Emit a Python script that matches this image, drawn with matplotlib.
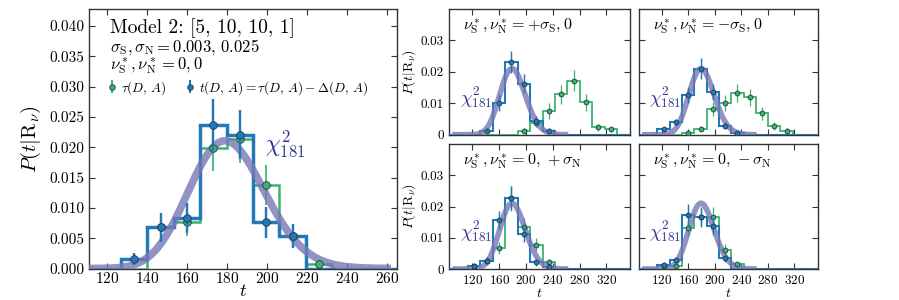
import math
import numpy as np
import matplotlib
matplotlib.use('Agg')
import matplotlib.pyplot as plt
from matplotlib.ticker import FuncFormatter, MultipleLocator, FixedLocator

plt.rcParams['font.family'] = 'serif'
plt.rcParams['font.serif'] = ['cmr10', 'DejaVu Serif']
plt.rcParams['mathtext.fontset'] = 'cm'
plt.rcParams['axes.unicode_minus'] = False
plt.rcParams['axes.formatter.use_mathtext'] = True

# colours
c_t = '#2378b8'
c_tau = '#3db36b'
c_chi = '#7777b5'
c_lab = '#30308c'

# chi^2 degrees of freedom
dof = 181

# left panel: Model 2, nu*_S, nu*_N = 0, 0
left_edges = [127.0, 140.2, 153.4, 166.6, 179.8, 193.0, 206.2, 219.4, 232.6]
left_tau = [0, 0.0068, 0.0077, 0.0199, 0.0214, 0.0137, 0.0053, 0.0008]
left_tau_err = [0, 0.0024, 0.0023, 0.0039, 0.0040, 0.0033, 0.0020, 0.0003]
left_t = [0.0015, 0.0068, 0.0083, 0.0237, 0.0221, 0.0076, 0.0053, 0]
left_t_err = [0.0010, 0.0024, 0.0025, 0.0043, 0.0041, 0.0025, 0.0020, 0]

# right panels: shared bins
right_edges = [113.3, 131.9, 150.4, 169.0, 187.5, 206.1, 224.6, 243.2,
               261.7, 280.3, 298.8, 317.4, 335.9]

# +sigma_S, 0
p1_tau = [0, 0, 0, 0, 0.0013, 0.0036, 0.0076, 0.0128, 0.0172, 0.0103, 0.0023, 0.0018]
p1_tau_err = [0, 0, 0, 0, 0.0007, 0.0010, 0.0025, 0.0030, 0.0033, 0.0027, 0.0010, 0.0008]
p1_t = [0, 0.0012, 0.0102, 0.0231, 0.0162, 0.0045, 0.0012, 0, 0, 0, 0, 0]
p1_t_err = [0, 0.0008, 0.0025, 0.0036, 0.0030, 0.0015, 0.0008, 0, 0, 0, 0, 0]

# -sigma_S, 0
p2_tau = [0, 0, 0.0006, 0.0019, 0.0082, 0.0102, 0.0132, 0.0119, 0.0068, 0.0028, 0.0012, 0]
p2_tau_err = [0, 0, 0.0005, 0.0008, 0.0022, 0.0025, 0.0028, 0.0028, 0.0020, 0.0012, 0.0008, 0]
p2_t = [0.0018, 0.0039, 0.0127, 0.0210, 0.0137, 0.0029, 0.0006, 0, 0, 0, 0, 0]
p2_t_err = [0.0008, 0.0010, 0.0025, 0.0033, 0.0025, 0.0012, 0.0005, 0, 0, 0, 0, 0]

# 0, +sigma_N
p3_tau = [0.0011, 0.0027, 0.0067, 0.0227, 0.0134, 0.0078, 0.0022, 0, 0, 0, 0, 0]
p3_tau_err = [0.0006, 0.0010, 0.0018, 0.0040, 0.0030, 0.0020, 0.0009, 0, 0, 0, 0, 0]
p3_t = [0.0011, 0.0027, 0.0157, 0.0227, 0.0112, 0.0021, 0.0005, 0, 0, 0, 0, 0]
p3_t_err = [0.0006, 0.0010, 0.0028, 0.0038, 0.0025, 0.0010, 0.0004, 0, 0, 0, 0, 0]

# 0, -sigma_N
p4_tau = [0.0011, 0.0010, 0.0131, 0.0165, 0.0165, 0.0062, 0.0016, 0, 0, 0, 0, 0]
p4_tau_err = [0.0006, 0.0006, 0.0025, 0.0030, 0.0033, 0.0018, 0.0007, 0, 0, 0, 0, 0]
p4_t = [0.0014, 0.0028, 0.0174, 0.0168, 0.0138, 0.0035, 0, 0, 0, 0, 0, 0]
p4_t_err = [0.0007, 0.0010, 0.0035, 0.0030, 0.0028, 0.0012, 0, 0, 0, 0, 0, 0]

panel_labels = [r'$\nu^*_{\rm S}, \nu^*_{\rm N} = +\sigma_{\rm S}, 0$',
                r'$\nu^*_{\rm S}, \nu^*_{\rm N} = -\sigma_{\rm S}, 0$',
                r'$\nu^*_{\rm S}, \nu^*_{\rm N} = 0,\, +\sigma_{\rm N}$',
                r'$\nu^*_{\rm S}, \nu^*_{\rm N} = 0,\, -\sigma_{\rm N}$']


def chi2_pdf(x, k):
    x = np.asarray(x, float)
    logp = (k / 2 - 1) * np.log(x) - x / 2 - (k / 2) * math.log(2) - math.lgamma(k / 2)
    return np.exp(logp)


def draw_hist(ax, edges, vals, errs, color, lw, ms, z):
    edges = np.asarray(edges, float)
    vals = np.asarray(vals, float)
    errs = np.asarray(errs, float)
    w = edges[1] - edges[0]
    e = np.r_[edges[0] - 3 * w, edges, edges[-1] + 6 * w]
    v = np.r_[0, vals, 0]
    ax.stairs(v, e, baseline=None, color=color, lw=lw, zorder=z)
    centres = 0.5 * (edges[:-1] + edges[1:])
    m = vals > 0
    ax.errorbar(centres[m], vals[m], yerr=errs[m], fmt='o', color=color,
                ms=ms, mec='#1d3a4a', mew=0.6, elinewidth=lw * 0.7,
                capsize=0, zorder=z + 2)


def style(ax, size):
    for s in ax.spines.values():
        s.set_color('#333333')
        s.set_linewidth(1.0)
    ax.tick_params(direction='in', top=True, right=True, length=4,
                   width=0.8, labelsize=size, color='#333333')


fig = plt.figure(figsize=(8.99, 3.0), dpi=100)

# ---- left panel
ax = fig.add_axes([0.099, 0.105, 0.3426, 0.865])
draw_hist(ax, left_edges, left_tau, left_tau_err, c_tau, 1.8, 5.5, 3)
draw_hist(ax, left_edges, left_t, left_t_err, c_t, 2.5, 5.5, 4)
tt = np.linspace(92, 262, 400)
ax.plot(tt, chi2_pdf(tt, dof), color=c_chi, lw=5.5, alpha=0.8, zorder=5,
        solid_capstyle='butt')
ax.set_xlim(111, 265)
ax.set_ylim(0, 0.0428)
ax.xaxis.set_major_locator(MultipleLocator(20))
ax.yaxis.set_major_locator(MultipleLocator(0.005))
ax.yaxis.set_major_formatter(FuncFormatter(lambda v, p: '%.3f' % v))
style(ax, 11)
ax.tick_params(axis='x', pad=2)
ax.set_xlabel(r'$t$', fontsize=13.5)
ax.xaxis.label.set_va('center')
ax.xaxis.set_label_coords(0.5, -0.087)
ax.set_ylabel(r'$P(t|\mathrm{R}_\nu)$', fontsize=15, labelpad=4)
ax.text(0.068, 0.925, 'Model 2: [5, 10, 10, 1]', transform=ax.transAxes,
        fontsize=14, va='center')
ax.text(0.068, 0.852, r'$\sigma_{\rm S}, \sigma_{\rm N} = 0.003,\, 0.025$',
        transform=ax.transAxes, fontsize=12, va='center')
ax.text(0.068, 0.778, r'$\nu^*_{\rm S}, \nu^*_{\rm N} = 0, 0$',
        transform=ax.transAxes, fontsize=12, va='center')
ax.text(209, 0.0205, r'$\chi^2_{181}$', color=c_lab, fontsize=17,
        ha='center', va='center')
h1 = ax.errorbar([], [], yerr=[], fmt='o', color=c_tau, ms=4, mec='#1d3a4a', mew=0.6)
h2 = ax.errorbar([], [], yerr=[], fmt='o', color=c_t, ms=4, mec='#1d3a4a', mew=0.6)
ax.legend([h1, h2], [r'$\tau(D,\,A)$', r'$t(D,\,A) = \tau(D,\,A) - \Delta(D,\,A)$'],
          ncol=2, frameon=False, fontsize=9.5, loc='center left',
          bbox_to_anchor=(0.035, 0.697), handlelength=0.8, handletextpad=0.3,
          columnspacing=1.4, numpoints=1, borderpad=0)

# ---- right panels
rects = [[0.4994, 0.551, 0.2013, 0.419],
         [0.7105, 0.551, 0.1990, 0.419],
         [0.4994, 0.1033, 0.2013, 0.4167],
         [0.7105, 0.1033, 0.1990, 0.4167]]
taus = [p1_tau, p2_tau, p3_tau, p4_tau]
tau_errs = [p1_tau_err, p2_tau_err, p3_tau_err, p4_tau_err]
ts = [p1_t, p2_t, p3_t, p4_t]
t_errs = [p1_t_err, p2_t_err, p3_t_err, p4_t_err]

for i in range(4):
    ax = fig.add_axes(rects[i])
    draw_hist(ax, right_edges, taus[i], tau_errs[i], c_tau, 1.3, 3.5, 3)
    draw_hist(ax, right_edges, ts[i], t_errs[i], c_t, 1.5, 3.5, 4)
    tt = np.linspace(90, 263, 400)
    ax.plot(tt, chi2_pdf(tt, dof), color=c_chi, lw=4, alpha=0.8, zorder=5,
            solid_capstyle='butt')
    ax.set_xlim(85, 355)
    ax.set_ylim(0, 0.04)
    ax.xaxis.set_major_locator(MultipleLocator(40))
    ax.yaxis.set_major_locator(FixedLocator([0, 0.01, 0.02, 0.03]))
    ax.yaxis.set_major_formatter(FuncFormatter(lambda v, p: '0' if abs(v) < 1e-9 else '%.2f' % v))
    style(ax, 9.5)
    if i < 2:
        ax.tick_params(labelbottom=False)
    else:
        ax.set_xlabel(r'$t$', fontsize=10, labelpad=0)
    if i % 2 == 1:
        ax.tick_params(labelleft=False)
    else:
        ax.set_ylabel(r'$P(t|\mathrm{R}_\nu)$', fontsize=10, labelpad=2)
    ax.text(0.077, 0.86, panel_labels[i], transform=ax.transAxes,
            fontsize=11.5, va='center')
    ax.text(0.15, 0.30, r'$\chi^2_{181}$', transform=ax.transAxes,
            color=c_lab, fontsize=13.5, ha='center', va='center')

fig.savefig('out.png', dpi=100)
